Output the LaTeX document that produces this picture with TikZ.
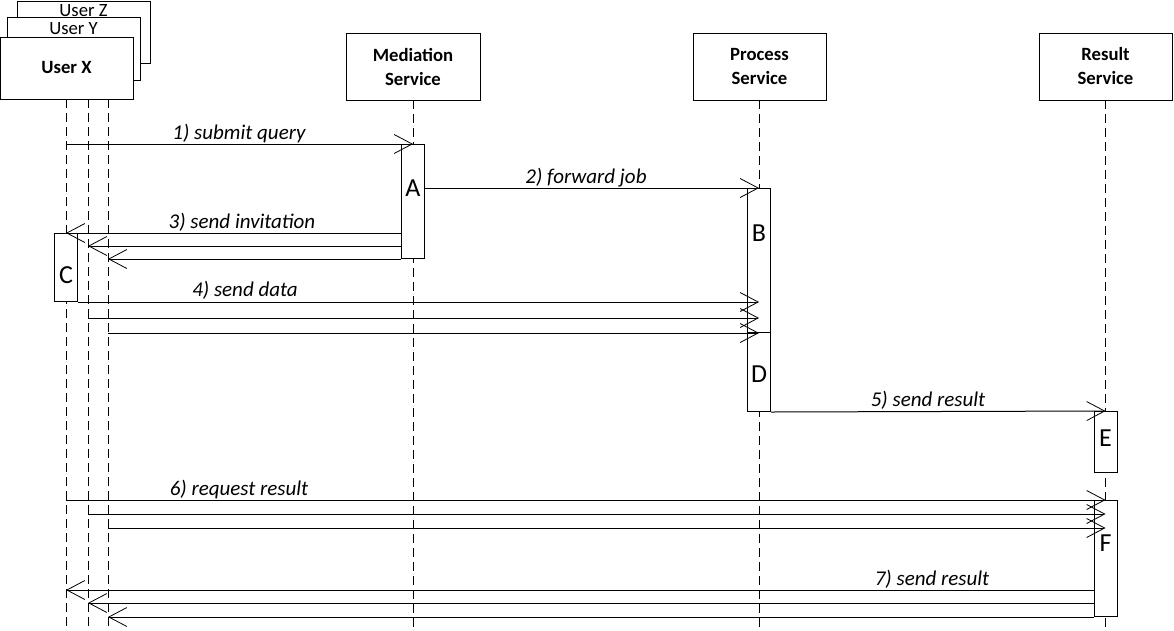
\documentclass[tikz,border=0pt]{standalone}
\usepackage{fontspec}
\setmainfont{Carlito}
\usetikzlibrary{arrows.meta}
\begin{document}
\begin{tikzpicture}[x=1pt,y=-1pt,
  box/.style={draw, line width=1pt, fill=white, inner sep=0pt, align=center,
    font=\fontsize{18.7}{24}\selectfont\bfseries},
  ubox/.style={draw, line width=1pt, fill=white, inner sep=0pt,
    minimum width=133pt, minimum height=62pt},
  utext/.style={anchor=base, inner sep=0pt, font=\fontsize{18.7}{24}\selectfont},
  life/.style={line width=0.9pt, dash pattern=on 9pt off 5pt},
  act/.style={draw, line width=1pt, fill=white, minimum width=23pt, inner sep=0pt, anchor=north},
  letter/.style={anchor=center, inner sep=0pt, font=\fontsize{26}{30}\selectfont},
  msg/.style={line width=1pt, -{Straight Barb[length=18pt,width=19pt,line width=0.8pt]}},
  lbl/.style={anchor=base, inner sep=0pt, font=\fontsize{21}{25}\selectfont\itshape}]

\useasboundingbox (0,0) rectangle (1174,630);
\coordinate (bot) at (0,630);

% user boxes
\node[ubox, label={[utext, yshift=-15.5pt]north:User Z}] (Z) at (83.5,32) {};
\node[ubox, minimum height=63pt, label={[utext, yshift=-17.5pt]north:User Y}] (Y) at (73.5,48.5) {};
\node[ubox, font=\fontsize{18.7}{24}\selectfont\bfseries] (X) at (66.5,68) {User X};

% service boxes
\node[box, minimum width=134pt, minimum height=67pt] (M) at (413,66.5) {Mediation\\Service};
\node[box, minimum width=133pt, minimum height=67pt] (P) at (759.5,66.5) {Process\\Service};
\node[box, minimum width=133pt, minimum height=67pt] (R) at (1105.5,66.5) {Result\\Service};

% lifelines
\coordinate (xl) at (66,99);
\coordinate (yl) at (88,99);
\coordinate (zl) at (108,99);
\coordinate (ml) at (413,100);
\coordinate (pl) at (759,100);
\coordinate (rl) at (1105.5,100);
\foreach \c in {xl,yl,zl,ml,pl,rl}
  \draw[life] (\c) -- (\c |- bot);

% activations
\node[act, minimum height=114pt, label={[letter, yshift=-44pt]north:A}] (A) at (ml |- 0,144) {};
\node[act, minimum height=144pt, label={[letter, yshift=-45pt]north:B}] (B) at (pl |- 0,188) {};
\node[act, minimum height=79pt,  label={[letter, yshift=-42pt]north:D}] (D) at (pl |- 0,332) {};
\node[act, minimum height=68pt,  label={[letter, yshift=-42pt]north:C}] (C) at (xl |- 0,233) {};
\node[act, minimum height=61pt,  label={[letter, yshift=-27pt]north:E}] (E) at (rl |- 0,411) {};
\node[act, minimum height=116pt, label={[letter, yshift=-43pt]north:F}] (F) at (rl |- 0,500) {};

% messages
\draw[msg] (xl |- A.north) -- (A.north);
\draw[msg] (A.east |- B.north) -- (B.north);
\draw[msg] (A.west |- C.north) -- (C.north);
\draw[msg] (A.west |- 0,246) -- (yl |- 0,246);
\draw[msg] (A.south west) -- (zl |- A.south);
\draw[msg] (C.south east) -- (pl |- C.south);
\draw[msg] (yl |- 0,318) -- (pl |- 0,318);
\draw[msg] (zl |- B.south) -- (B.south);
\draw[msg] (D.south east) -- (E.north);
\draw[msg] (xl |- F.north) -- (F.north);
\draw[msg] (yl |- 0,514) -- (rl |- 0,514);
\draw[msg] (zl |- 0,528) -- (rl |- 0,528);
\draw[msg] (F.west |- 0,590) -- (xl |- 0,590);
\draw[msg] (F.west |- 0,603) -- (yl |- 0,603);
\draw[msg] (F.south west) -- (zl |- F.south);

% labels
\node[lbl] (l1) at (239,139) {1) submit query};
\node[lbl] (l2) at (586,183) {2) forward job};
\node[lbl] (l3) at (242,228) {3) send invitation};
\node[lbl] (l4) at (245,296) {4) send data};
\node[lbl] (l5) at (928,406) {5) send result};
\node[lbl] (l6) at (239,495) {6) request result};
\node[lbl] (l7) at (932,585) {7) send result};
\end{tikzpicture}
\end{document}
